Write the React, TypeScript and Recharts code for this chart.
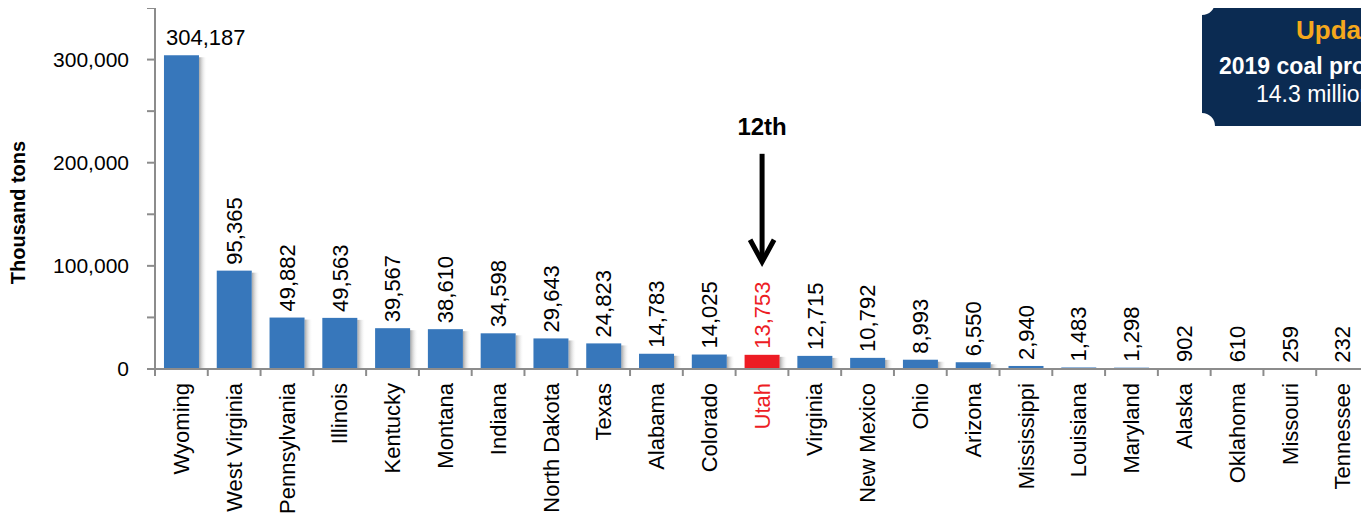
import React from "react"
import { BarChart, Bar, XAxis, YAxis, Cell, LabelList } from "recharts"

const states = [
  "Wyoming", "West Virginia", "Pennsylvania", "Illinois", "Kentucky", "Montana",
  "Indiana", "North Dakota", "Texas", "Alabama", "Colorado", "Utah", "Virginia",
  "New Mexico", "Ohio", "Arizona", "Mississippi", "Louisiana", "Maryland",
  "Alaska", "Oklahoma", "Missouri", "Tennessee",
]
const production = [
  304187, 95365, 49882, 49563, 39567, 38610, 34598, 29643, 24823, 14783, 14025,
  13753, 12715, 10792, 8993, 6550, 2940, 1483, 1298, 902, 610, 259, 232,
]
const yTicks = [0, 50000, 100000, 150000, 200000, 250000, 300000, 350000]
const highlight = "Utah"
const rankText = "12th"
const boxLines = ["Updated", "2019 coal production", "14.3 million tons"]

const data = states.map((name, i) => ({ name, value: production[i] }))

const W = 1369
const H = 521
const LEFT = 155
const BAND = (W - LEFT) / states.length

const BLUE = "#3777bb"
const RED = "#ed1c24"
const GRAY = "#8c8c8c"
const FONT = "'Liberation Sans', Arial, sans-serif"

const fmt = (v: number) => v.toLocaleString("en-US")

const ShadowBar = (props: any) => {
  const { x, y, width, height, fill } = props
  if (height <= 0) return null
  return (
    <g>
      <rect x={x + width} y={y + 2} width={8} height={height - 2} fill="url(#barShadow)" />
      <rect x={x} y={y} width={width} height={height} fill={fill} />
    </g>
  )
}

const ValueLabel = (props: any) => {
  const { x, y, width, value, index } = props
  const cx = x + width / 2
  const isHi = states[index] === highlight
  if (index === 0) {
    return (
      <text x={x + 2} y={y - 10} fontSize={22} fontFamily={FONT} fill="#000">
        {fmt(value)}
      </text>
    )
  }
  const ly = y - 6
  return (
    <g>
      <text
        x={cx}
        y={ly}
        dy="0.35em"
        transform={`rotate(-90, ${cx}, ${ly})`}
        fontSize={22}
        fontFamily={FONT}
        fill={isHi ? RED : "#000"}
      >
        {fmt(value)}
      </text>
      {isHi && (
        <g>
          <text x={cx} y={ly - 214} textAnchor="middle" fontSize={24} fontWeight="bold" fontFamily={FONT} fill="#000">
            {rankText}
          </text>
          <line x1={cx} y1={ly - 195} x2={cx} y2={ly - 88} stroke="#000" strokeWidth={5} />
          <polyline
            points={`${cx - 12},${ly - 109} ${cx},${ly - 87} ${cx + 12},${ly - 109}`}
            fill="none"
            stroke="#000"
            strokeWidth={5}
            strokeLinejoin="miter"
          />
        </g>
      )}
    </g>
  )
}

const StateTick = (props: any) => {
  const { x, y, payload } = props
  const isHi = payload.value === highlight
  const bx = x - BAND / 2
  return (
    <g>
      <line x1={bx} y1={y - 14} x2={bx} y2={y - 7} stroke={GRAY} strokeWidth={2} />
      <text
        x={x}
        y={y}
        dy="0.35em"
        transform={`rotate(-90, ${x}, ${y})`}
        textAnchor="end"
        fontSize={22}
        fontFamily={FONT}
        fill={isHi ? RED : "#000"}
      >
        {payload.value}
      </text>
    </g>
  )
}

const InfoBox = () => {
  const x0 = 1202
  const y0 = 2
  const y1 = 126
  const r = 13
  const d = `M ${x0 + r} ${y0} L ${W + 20} ${y0} L ${W + 20} ${y1} L ${x0 + r} ${y1} A ${r} ${r} 0 0 0 ${x0} ${y1 - r} L ${x0} ${y0 + r} A ${r} ${r} 0 0 0 ${x0 + r} ${y0} Z`
  return (
    <svg width={W} height={H} style={{ position: "absolute", left: 0, top: 0, pointerEvents: "none" }}>
      <path d={d} fill="#0b2b52" />
      <text x={1296} y={39} fontSize={26} fontWeight="bold" fontFamily={FONT} fill="#f5a81c">
        {boxLines[0]}
      </text>
      <text x={1219} y={74} fontSize={23} fontWeight="bold" fontFamily={FONT} fill="#fff">
        {boxLines[1]}
      </text>
      <text x={1256} y={102} fontSize={23} fontFamily={FONT} fill="#fff">
        {boxLines[2]}
      </text>
    </svg>
  )
}

export default function App() {
  return (
    <div style={{ position: "relative", margin: -8, width: W, height: H, overflow: "hidden", background: "#fff" }}>
      <BarChart width={W} height={H} data={data} margin={{ top: 8, right: 0, left: 0, bottom: 0 }} barCategoryGap="17%">
        <defs>
          <linearGradient id="barShadow" x1="0" y1="0" x2="1" y2="0">
            <stop offset="0%" stopColor="#9a9a9a" stopOpacity={0.9} />
            <stop offset="100%" stopColor="#ffffff" stopOpacity={0} />
          </linearGradient>
        </defs>
        <XAxis
          dataKey="name"
          interval={0}
          height={152}
          axisLine={{ stroke: GRAY, strokeWidth: 2 }}
          tickLine={false}
          tickSize={6}
          tickMargin={8}
          tick={<StateTick />}
        />
        <YAxis
          width={LEFT}
          domain={[0, 350000]}
          ticks={yTicks}
          interval={0}
          axisLine={{ stroke: GRAY, strokeWidth: 2 }}
          tickLine={{ stroke: GRAY, strokeWidth: 2 }}
          tickSize={8}
          tickMargin={18}
          tickFormatter={(v: number) => (v % 100000 === 0 ? fmt(v) : "")}
          tick={{ fontSize: 21, fontFamily: FONT, fill: "#000" }}
          label={({ viewBox }: any) => (
            <text
              x={viewBox.x + 25}
              y={viewBox.y + viewBox.height / 2 + 24}
              transform={`rotate(-90, ${viewBox.x + 25}, ${viewBox.y + viewBox.height / 2 + 24})`}
              textAnchor="middle"
              fontSize={20}
              fontWeight="bold"
              fontFamily={FONT}
              fill="#000"
            >
              Thousand tons
            </text>
          )}
        />
        <Bar dataKey="value" isAnimationActive={false} shape={<ShadowBar />}>
          {data.map((d) => (
            <Cell key={d.name} fill={d.name === highlight ? RED : BLUE} />
          ))}
          <LabelList dataKey="value" content={<ValueLabel />} />
        </Bar>
      </BarChart>
      <InfoBox />
    </div>
  )
}
